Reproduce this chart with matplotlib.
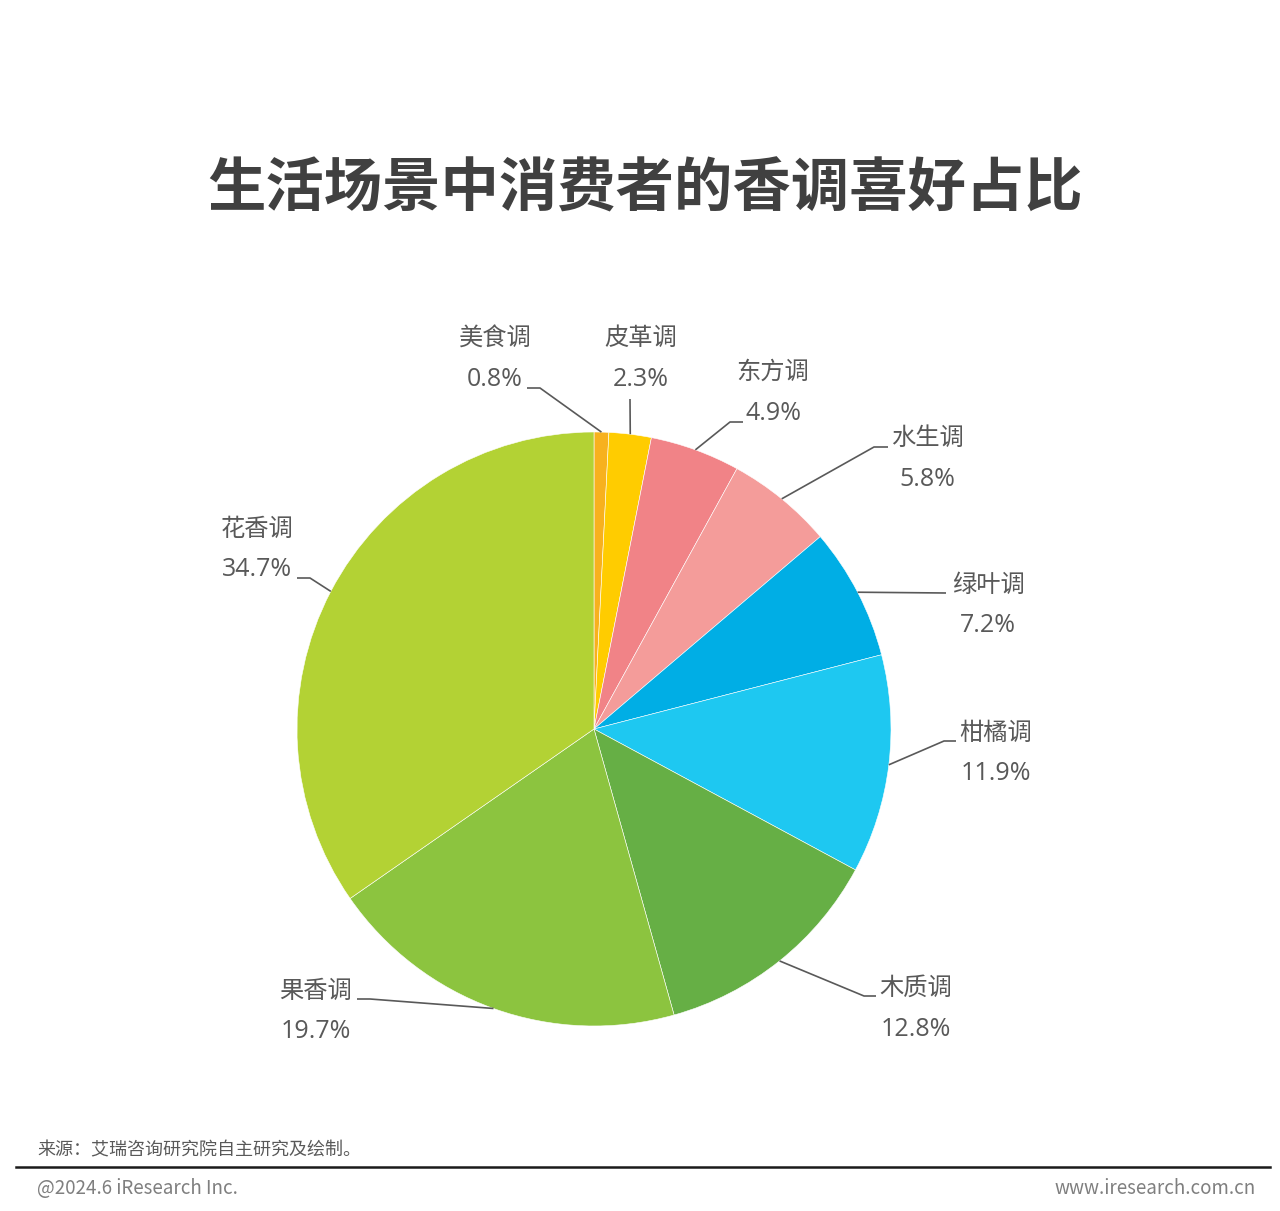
import numpy as np
import matplotlib
matplotlib.use("Agg")
import matplotlib.pyplot as plt

plt.rcParams['font.family'] = ['Noto Sans CJK SC', 'DejaVu Sans']

categories = ['美食调', '皮革调', '东方调', '水生调', '绿叶调', '柑橘调', '木质调', '果香调', '花香调']
values = [0.8, 2.3, 4.9, 5.8, 7.2, 11.9, 12.8, 19.7, 34.7]
colors = ['#F7B11E', '#FFCC00', '#F18387', '#F49C9A', '#00AEE5', '#1EC8F1', '#66AF45', '#8CC43F', '#B3D234']
# label text anchor (image px: x, y of name line) and elbow start (image px)
label_pos = [(495, 339), (641, 338), (773, 372), (927, 438), (988, 585),
             (996, 733), (916, 988), (316, 991), (257, 529)]
elbow = [[(527, 388), (540, 388)], [(630, 399), (630, 399)], [(743, 422), (730, 422)],
         [(888, 447), (874, 447)], [(946, 593), (946, 593)], [(956, 741), (944, 741)],
         [(876, 996), (864, 996)], [(357, 999), (370, 999)], [(297, 578), (310, 578)]]

W, H = 1280, 1211
fig = plt.figure(figsize=(W / 100, H / 100), dpi=100)
ax = fig.add_axes([0, 0, 1, 1])

cx, cy, R = 594, H - 729, 297
wedges, _ = ax.pie(values, colors=colors, startangle=90, counterclock=False,
                   center=(cx, cy), radius=R, frame=True,
                   wedgeprops=dict(linewidth=0.4, edgecolor='white'))
ax.set_xlim(0, W)
ax.set_ylim(0, H)
ax.set_aspect('equal')
ax.axis('off')

txt_col = '#595959'
line_col = '#595959'
for w, name, v, (lx, ly), el in zip(wedges, categories, values, label_pos, elbow):
    ang = np.deg2rad((w.theta1 + w.theta2) / 2)
    px, py = cx + R * np.cos(ang), cy + R * np.sin(ang)
    xs = [el[0][0], el[1][0], px]
    ys = [H - el[0][1], H - el[1][1], py]
    ax.plot(xs, ys, color=line_col, lw=1.2, solid_capstyle='butt')
    ax.text(lx, H - ly, name, ha='center', va='center', fontsize=17.5, color=txt_col)
    ax.text(lx, H - ly - 41, f'{v:.1f}%', ha='center', va='center', fontsize=18,
            color=txt_col, family=['Open Sans', 'DejaVu Sans'])

fig.text(645 / W, 1 - 190 / H, '生活场景中消费者的香调喜好占比', ha='center', va='center',
         fontsize=42, fontweight='bold', color='#404040')

fig.text(37 / W, 1 - 1150 / H, '来源：艾瑞咨询研究院自主研究及绘制。', ha='left', va='center',
         fontsize=13, color='#595959')
ax.plot([16, 1270], [H - 1167, H - 1167], color='#1a1a1a', lw=1.8)
fig.text(37 / W, 1 - 1188 / H, '@2024.6 iResearch Inc.', ha='left', va='center',
         fontsize=13.5, color='#7f7f7f')
fig.text(1256 / W, 1 - 1188 / H, 'www.iresearch.com.cn', ha='right', va='center',
         fontsize=13.5, color='#7f7f7f')

fig.savefig('out.png', dpi=100, facecolor='white')
